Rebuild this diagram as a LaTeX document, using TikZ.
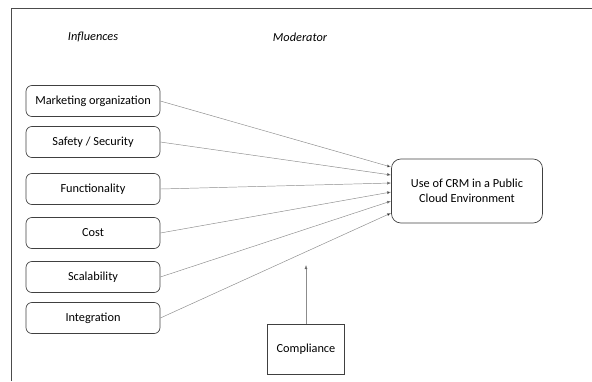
\documentclass[tikz,border=0pt]{standalone}
\usepackage{fontspec}
\setmainfont{Carlito}
\usepackage{tikz}
\usetikzlibrary{calc,positioning,arrows.meta}

\begin{document}
\begin{tikzpicture}[x=0.03cm, y=-0.03cm,
    factor/.style={rectangle, rounded corners=5, draw=black!75, line width=0.6pt, minimum width=134*0.03cm, minimum height=31*0.03cm, inner sep=0pt},
    outcome/.style={rectangle, rounded corners=8, draw=black!75, line width=0.6pt, minimum width=151*0.03cm, minimum height=64*0.03cm, align=center},
    moderator/.style={rectangle, draw=black!75, line width=0.6pt, minimum width=77*0.03cm, minimum height=50*0.03cm},
    heading/.style={font=\fontsize{10.5}{12.5}\selectfont\itshape},
    link/.style={draw=black!45, line width=0.4pt, -{Latex[length=3.5pt,width=2.6pt,fill=black]}},
    every node/.style={font=\fontsize{10.5}{12.5}\selectfont}
    ]
    \useasboundingbox (0,0) rectangle (592,381);
    % frame lines
    \draw[black!70, line width=0.8pt] (11,381) -- (11,8) -- (592,8);
    
    \node[heading] (infl) at (93,37) {Influences};
    \node[heading] (mod) at (300,37) {Moderator};
    
    \node[outcome] (use) at (467,191) {Use of CRM in a Public\\Cloud Environment};
    
    % draw the influence boxes and their arrows
    \foreach \name/\ypos/\dy/\txt in {mkt/101/-24/Marketing organization,
        safe/142/-16/{Safety / Security},
        func/189/-8/Functionality,
        cost/233/1/Cost,
        scal/277/10/Scalability,
        integ/318/22/Integration} {
        \node[factor] (\name) at (93,\ypos) {\txt};
        \draw[link] (\name.east) -- ($(use.west)+(0,\dy)$);
    }
    
    \node[moderator] (comp) at (306,349) {Compliance};
    \coordinate (compend) at (306,265);
    \draw[link] (comp.north) -- (compend);
    
\end{tikzpicture}
\end{document}
